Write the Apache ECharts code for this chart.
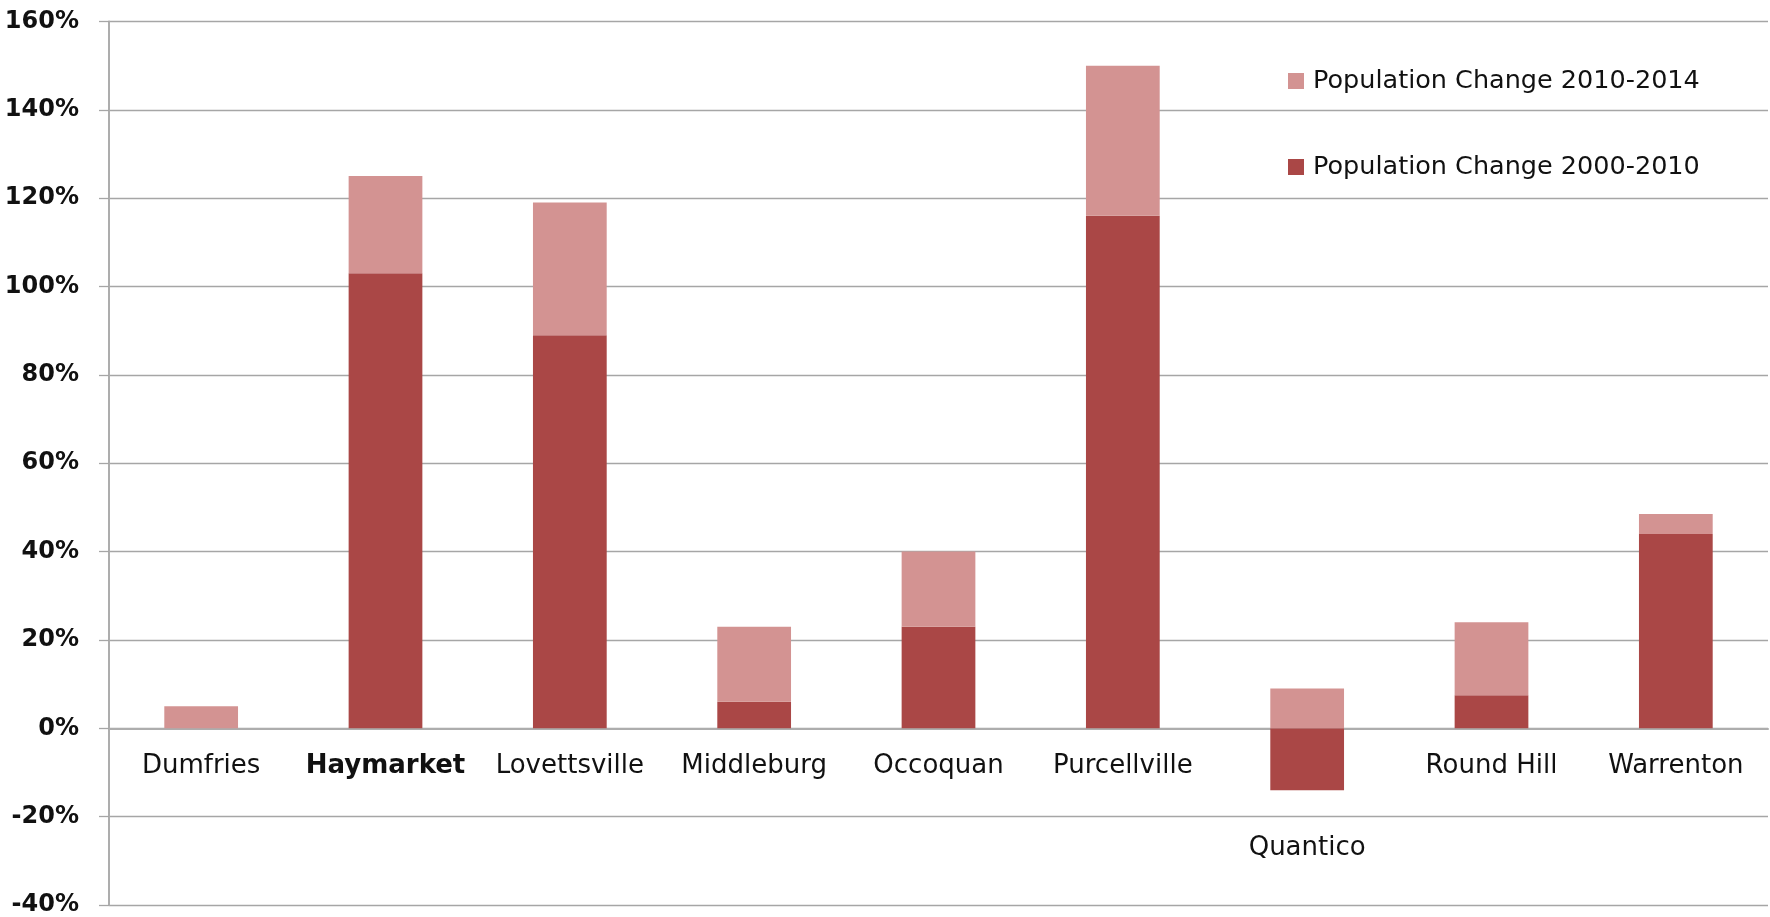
<!DOCTYPE html>
<html>
<head>
<meta charset="utf-8">
<script src="https://cdn.jsdelivr.net/npm/echarts@6/dist/echarts.min.js"></script>
<style>
  html, body { margin: 0; padding: 0; background: #fff; }
  #chart { width: 1770px; height: 917px; }
</style>
</head>
<body>
<div id="chart"></div>
<script>
// Towns compared
const towns = ['Dumfries', 'Haymarket', 'Lovettsville', 'Middleburg', 'Occoquan',
               'Purcellville', 'Quantico', 'Round Hill', 'Warrenton'];

// Percent population change, 2000-2010 (bottom of each stack)
const change2000to2010 = [0, 103, 89, 6, 23, 116, -14, 7.5, 44];

// Percent population change, 2010-2014 (stacked on top)
const change2010to2014 = [5, 22, 30, 17, 17, 34, 9, 16.5, 4.5];

// Value axis ticks (percent)
const yMin = -40, yMax = 160, yStep = 20;

const seriesNames = ['Population Change 2000-2010', 'Population Change 2010-2014'];
const colors = ['#AA4746', '#D39392'];

const chart = echarts.init(document.getElementById('chart'), null, { renderer: 'canvas' });

const labelFont = 'DejaVu Sans';
const gridTop = 21.5, gridBottom = 12, chartH = 917;
const plotH = chartH - gridTop - gridBottom;
// category axis sits on the 0% line: lift it from the plot bottom by the height of the negative range
const zeroLift = plotH * (0 - yMin) / (yMax - yMin);

chart.setOption({
  backgroundColor: '#ffffff',
  animation: false,
  grid: { left: 109, right: 2, top: gridTop, bottom: gridBottom, containLabel: false, outerBoundsMode: 'none' },
  legend: {
    orient: 'vertical',
    left: 1283,
    top: 63,
    itemWidth: 16,
    itemHeight: 16,
    itemGap: 60,
    icon: 'rect',
    data: [seriesNames[1], seriesNames[0]],
    textStyle: { fontFamily: labelFont, fontSize: 25.5, color: '#111', padding: [0, 0, 0, 4] }
  },
  xAxis: {
    type: 'category',
    data: towns,
    position: 'bottom',
    offset: -zeroLift,
    axisLine: { onZero: false, lineStyle: { color: '#ADADAD', width: 2 } },
    axisTick: { show: false },
    splitLine: { show: false },
    axisLabel: {
      interval: 0,
      margin: 23,
      formatter: function (v) {
        if (v === 'Haymarket') return '{b|' + v + '}';
        if (v === 'Quantico') return '{gap| }\n{n|' + v + '}';
        return '{n|' + v + '}';
      },
      rich: {
        n: { fontFamily: labelFont, fontSize: 26, color: '#111', lineHeight: 30 },
        b: { fontFamily: labelFont, fontSize: 26, fontWeight: 'bold', color: '#111', lineHeight: 30 },
        gap: { fontSize: 10, lineHeight: 82 }
      }
    }
  },
  yAxis: {
    type: 'value',
    min: yMin,
    max: yMax,
    interval: yStep,
    axisLine: { show: true, lineStyle: { color: '#ADADAD', width: 2 } },
    axisTick: { show: true, length: 10, lineStyle: { color: '#A6A6A6', width: 1.3 } },
    splitLine: { show: true, lineStyle: { color: '#A6A6A6', width: 1.3 } },
    axisLabel: {
      margin: 30,
      formatter: '{value}%',
      fontFamily: labelFont,
      fontWeight: 'bold',
      fontSize: 24,
      color: '#111'
    }
  },
  series: [
    {
      name: seriesNames[0],
      type: 'bar',
      stack: 'pop',
      barWidth: '40%',
      data: change2000to2010,
      itemStyle: { color: colors[0] }
    },
    {
      name: seriesNames[1],
      type: 'bar',
      stack: 'pop',
      barWidth: '40%',
      data: change2010to2014,
      itemStyle: { color: colors[1] }
    }
  ]
});
</script>
</body>
</html>
